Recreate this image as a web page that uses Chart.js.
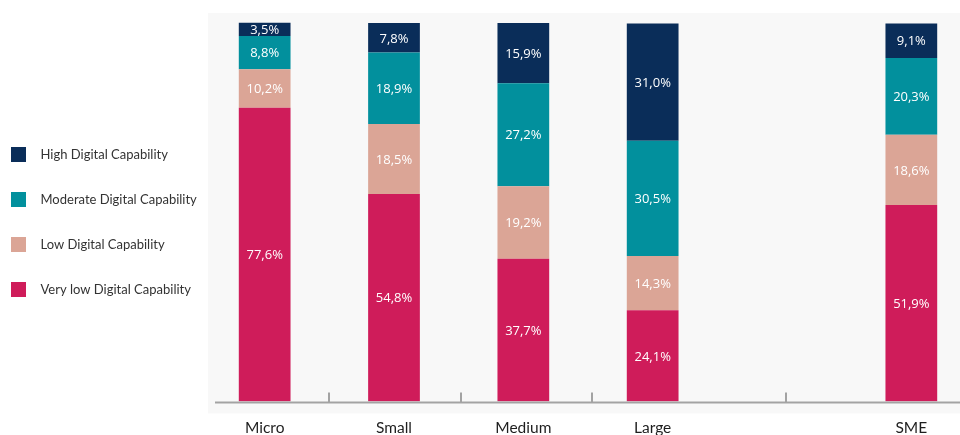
<!DOCTYPE html>
<html>
<head>
<meta charset="utf-8">
<script src="https://cdn.jsdelivr.net/npm/chart.js@4.4.1/dist/chart.umd.min.js"></script>
<style>
  html, body { margin: 0; padding: 0; background: #fff; overflow: hidden; }
  #wrap { width: 976px; height: 435px; }
</style>
</head>
<body>
<div id="wrap"><canvas id="capability" width="976" height="435"></canvas></div>
<script>
const categories = ["Micro", "Small", "Medium", "Large", "", "SME"]
const seriesNames = [
  "Very low Digital Capability",
  "Low Digital Capability",
  "Moderate Digital Capability",
  "High Digital Capability",
]
const veryLow = [77.6, 54.8, 37.7, 24.1, null, 51.9]
const low = [10.2, 18.5, 19.2, 14.3, null, 18.6]
const moderate = [8.8, 18.9, 27.2, 30.5, null, 20.3]
const high = [3.5, 7.8, 15.9, 31.0, null, 9.1]
// small marks standing up from the base line (category units)
const baseTicks = [0.5, 1.52, 2.53, 4.03]

const colors = ["#cf1c5a", "#dba596", "#02909d", "#0a2d59"]

// 15px square swatch used as the legend marker
const swatch = color => {
  const c = document.createElement("canvas")
  c.width = 15
  c.height = 15
  const g = c.getContext("2d")
  g.fillStyle = color
  g.fillRect(0, 0, 15, 15)
  return c
}

const pct = v => v.toFixed(1).replace(".", ",") + "%"

const backdrop = {
  id: "backdrop",
  beforeDraw(chart) {
    const { ctx, chartArea: a, width } = chart
    const top = chart.scales.y.getPixelForValue(100) - 10
    ctx.save()
    ctx.fillStyle = "#f8f8f8"
    ctx.fillRect(a.left + 8, top, width - a.left - 8, a.bottom + 12 - top)
    ctx.restore()
  },
  afterDatasetsDraw(chart) {
    const { ctx, chartArea: a, width } = chart
    const xs = chart.scales.x
    ctx.save()
    ctx.strokeStyle = "#a3a3a3"
    ctx.lineWidth = 2
    ctx.beginPath()
    ctx.moveTo(a.left + 15, a.bottom + 1)
    ctx.lineTo(width, a.bottom + 1)
    baseTicks.forEach(t => {
      const px = Math.round(xs.getPixelForValue(t))
      ctx.moveTo(px, a.bottom)
      ctx.lineTo(px, a.bottom - 9)
    })
    ctx.stroke()

    // percentage text in the middle of each segment
    ctx.font = "13px 'Open Sans'"
    ctx.fillStyle = "#ffffff"
    ctx.textAlign = "center"
    ctx.textBaseline = "middle"
    chart.data.datasets.forEach((ds, i) => {
      chart.getDatasetMeta(i).data.forEach((bar, j) => {
        const v = ds.data[j]
        if (v == null) return
        const { x, y, base } = bar.getProps(["x", "y", "base"], true)
        ctx.fillText(pct(v), x, (y + base) / 2 + 1)
      })
    })
    ctx.restore()
  },
}

const values = [veryLow, low, moderate, high]

new Chart(document.getElementById("capability"), {
  type: "bar",
  data: {
    labels: categories,
    datasets: values.map((d, i) => ({
      label: seriesNames[i],
      data: d,
      backgroundColor: colors[i],
      borderWidth: 0,
      categoryPercentage: 1,
      barPercentage: 0.4,
    })),
  },
  options: {
    responsive: false,
    devicePixelRatio: 1,
    animation: false,
    layout: { padding: { left: -29, top: -10, right: 0, bottom: -19 } },
    scales: {
      x: {
        stacked: true,
        grid: { display: false, drawTicks: false },
        border: { display: false },
        ticks: {
          autoSkip: false,
          maxRotation: 0,
          padding: 17,
          color: "#1e1e1e",
          font: { family: "Lato", size: 15.5 },
        },
      },
      y: {
        stacked: true,
        display: false,
        min: 0,
        max: 106.1,
      },
    },
    plugins: {
      tooltip: { enabled: false },
      legend: {
        position: "left",
        reverse: true,
        maxWidth: 229,
        labels: {
          usePointStyle: true,
          pointStyleWidth: 31,
          padding: 32,
          color: "#333333",
          font: { family: "Lato", size: 13 },
          generateLabels(chart) {
            return Chart.defaults.plugins.legend.labels
              .generateLabels(chart)
              .map(item => ({ ...item, pointStyle: swatch(colors[item.datasetIndex]) }))
          },
        },
      },
    },
  },
  plugins: [backdrop],
})
</script>
</body>
</html>
